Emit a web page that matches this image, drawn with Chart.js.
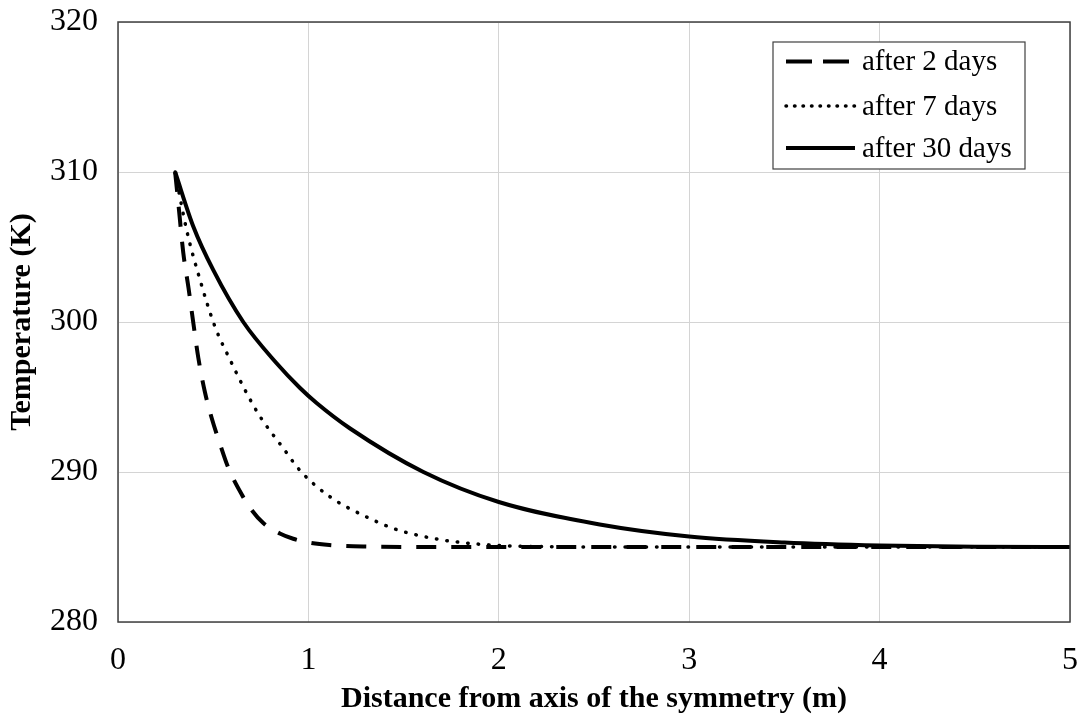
<!DOCTYPE html>
<html>
<head>
<meta charset="utf-8">
<script src="https://cdn.jsdelivr.net/npm/chart.js@4.4.1/dist/chart.umd.min.js"></script>
<style>
  html, body { margin: 0; padding: 0; background: #fff; }
  #wrap { width: 1084px; height: 722px; }
</style>
</head>
<body>
<div id="wrap"><canvas id="c" width="1084" height="722"></canvas></div>
<script>
const X_TICKS = [0, 1, 2, 3, 4, 5];
const Y_TICKS = [280, 290, 300, 310, 320];

// after 2 days (dashed)
const day2X = [0.3, 0.317, 0.343, 0.37, 0.396, 0.422, 0.457, 0.492, 0.535, 0.579, 0.65, 0.7, 0.763, 0.85, 0.92, 1.0, 1.11, 1.3, 1.6, 2.5, 3.5, 5];
const day2T = [310, 307.9, 304.6, 302.3, 299.9, 297.6, 295.3, 293.6, 291.9, 290.3, 288.5, 287.5, 286.6, 285.9, 285.55, 285.3, 285.13, 285.03, 285, 285, 285, 285];

// after 7 days (dotted)
const day7X = [0.3, 0.361, 0.431, 0.509, 0.588, 0.676, 0.746, 0.87, 0.956, 1.113, 1.306, 1.455, 1.57, 1.74, 2.0, 2.3, 2.6, 3.5, 5];
const day7T = [310, 306.1, 302.8, 299.7, 297.5, 295.25, 293.7, 291.55, 290.1, 288.35, 287.0, 286.2, 285.8, 285.4, 285.1, 285.02, 285, 285, 285];

// after 30 days (solid)
const day30X = [0.3, 0.396, 0.5, 0.658, 0.833, 0.956, 1.043, 1.219, 1.604, 2, 2.53, 3, 3.5, 4, 4.5, 5];
const day30T = [310, 306.35, 303.47, 300, 297.25, 295.6, 294.6, 292.9, 290, 288, 286.5, 285.7, 285.3, 285.1, 285.02, 285];

const FONT = "'Liberation Serif', 'Times New Roman', serif";

const pts = (xs, ys) => xs.map((x, i) => ({ x, y: ys[i] }));

// frame around the plot area
const frame = {
  id: "frame",
  afterDraw(chart) {
    const { ctx, chartArea: a } = chart;
    ctx.save();
    ctx.strokeStyle = "#404040";
    ctx.lineWidth = 1.5;
    ctx.strokeRect(a.left, a.top, a.right - a.left, a.bottom - a.top);
    ctx.restore();
  },
};

// boxed legend, drawn from the datasets' own styles
const boxLegend = {
  id: "boxLegend",
  afterDraw(chart) {
    const ctx = chart.ctx;
    const box = { x: 773, y: 42, w: 252, h: 127 };
    const rows = [61.5, 106, 148];
    ctx.save();
    ctx.fillStyle = "#fff";
    ctx.fillRect(box.x, box.y, box.w, box.h);
    ctx.strokeStyle = "#404040";
    ctx.lineWidth = 1.2;
    ctx.strokeRect(box.x, box.y, box.w, box.h);
    chart.data.datasets.forEach((ds, i) => {
      const y = rows[i];
      ctx.strokeStyle = ds.borderColor;
      ctx.lineWidth = ds.borderWidth;
      ctx.lineCap = ds.borderCapStyle || "butt";
      ctx.setLineDash(ds.legendDash || []);
      ctx.beginPath();
      ctx.moveTo(786, y);
      ctx.lineTo(855, y);
      ctx.stroke();
      ctx.setLineDash([]);
      ctx.fillStyle = "#000";
      ctx.font = "29px " + FONT;
      ctx.textBaseline = "middle";
      ctx.textAlign = "left";
      ctx.fillText(ds.label, 862, y + 1);
    });
    ctx.restore();
  },
};

new Chart(document.getElementById("c"), {
  type: "line",
  data: {
    datasets: [
      {
        label: "after 2 days",
        data: pts(day2X, day2T),
        borderColor: "#000",
        borderWidth: 4,
        borderDash: [20, 15],
        legendDash: [26, 11],
        pointRadius: 0,
        cubicInterpolationMode: "monotone",
        fill: false,
      },
      {
        label: "after 7 days",
        data: pts(day7X, day7T),
        borderColor: "#000",
        borderWidth: 3.5,
        borderDash: [0.5, 10],
        legendDash: [0.5, 8],
        borderCapStyle: "round",
        pointRadius: 0,
        cubicInterpolationMode: "monotone",
        fill: false,
      },
      {
        label: "after 30 days",
        data: pts(day30X, day30T),
        borderColor: "#000",
        borderWidth: 4,
        pointRadius: 0,
        cubicInterpolationMode: "monotone",
        fill: false,
      },
    ],
  },
  options: {
    responsive: false,
    animation: false,
    layout: { padding: { top: 22, right: 14, left: 0, bottom: 0 } },
    plugins: { legend: { display: false }, tooltip: { enabled: false } },
    scales: {
      x: {
        type: "linear",
        min: 0,
        max: 5,
        afterBuildTicks: (s) => { s.ticks = X_TICKS.map((v) => ({ value: v })); },
        afterFit: (s) => { s.height = 100; s.paddingLeft = 0; s.paddingRight = 0; },
        grid: { color: "#d4d4d4", lineWidth: 1, drawTicks: false },
        border: { display: false },
        ticks: { color: "#000", font: { family: FONT, size: 32 }, padding: 19, maxRotation: 0 },
        title: {
          display: true,
          text: "Distance from axis of the symmetry (m)",
          color: "#000",
          font: { family: FONT, size: 30, weight: "bold" },
          padding: { top: 4, bottom: 5 },
        },
      },
      y: {
        min: 280,
        max: 320,
        afterBuildTicks: (s) => { s.ticks = Y_TICKS.map((v) => ({ value: v })); },
        afterFit: (s) => { s.width = 118; s.paddingTop = 0; s.paddingBottom = 0; },
        grid: { color: "#d4d4d4", lineWidth: 1, drawTicks: false },
        border: { display: false },
        ticks: { color: "#000", font: { family: FONT, size: 32 }, padding: 20 },
        title: {
          display: true,
          text: "Temperature (K)",
          color: "#000",
          font: { family: FONT, size: 30, weight: "bold" },
          padding: { top: 4, bottom: 0 },
        },
      },
    },
  },
  plugins: [frame, boxLegend],
});
</script>
</body>
</html>
